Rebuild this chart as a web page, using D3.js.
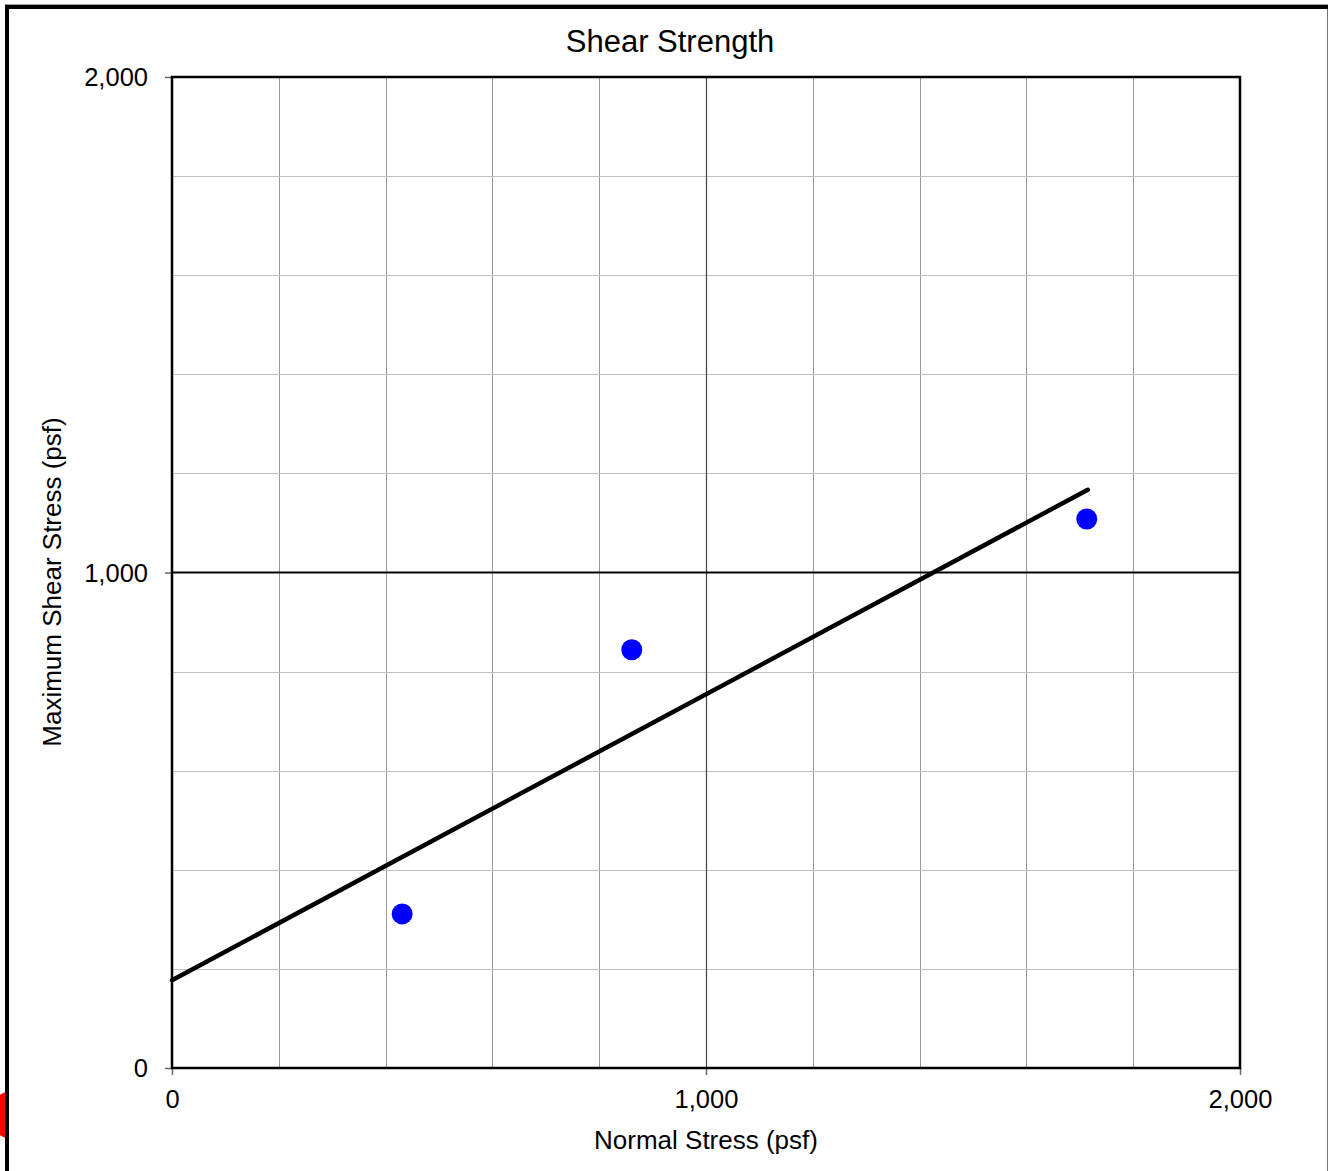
<!DOCTYPE html>
<html>
<head>
<meta charset="utf-8">
<script src="https://cdn.jsdelivr.net/npm/d3@7"></script>
<style>
  html, body { margin: 0; padding: 0; background: #fff; }
  svg { display: block; font-family: "Liberation Sans", Arial, sans-serif; }
</style>
</head>
<body>
<svg id="chart" width="1328" height="1171"></svg>
<script>
// Direct shear test results (psf)
const normalStress = [431, 861, 1713];
const shearStress = [311, 844, 1108];

// Failure envelope end points (psf)
const envelopeX = [0, 1715];
const envelopeY = [177, 1167];

const majorTicks = [0, 1000, 2000];
const gridTicks = [200, 400, 600, 800, 1000, 1200, 1400, 1600, 1800];

const chartTitle = "Shear Strength";
const xTitle = "Normal Stress (psf)";
const yTitle = "Maximum Shear Stress (psf)";

const svg = d3.select("#chart");
const W = 1328, H = 1171;
const plot = { left: 172, right: 1240, top: 77, bottom: 1068 };

const x = d3.scaleLinear().domain([0, 2000]).range([plot.left, plot.right]);
const y = d3.scaleLinear().domain([0, 2000]).range([plot.bottom, plot.top]);
const fmt = d3.format(",");

svg.append("rect").attr("width", W).attr("height", H).attr("fill", "#fff");

// Red mark partly hidden behind the outer frame
svg.append("circle").attr("cx", 13).attr("cy", 1115).attr("r", 24).attr("fill", "#ff0000");
svg.append("rect").attr("x", 9).attr("y", 1080).attr("width", 40).attr("height", 70).attr("fill", "#fff");

// Outer frame
svg.append("line").attr("x1", 7).attr("x2", 7).attr("y1", 5).attr("y2", H)
  .attr("stroke", "#000").attr("stroke-width", 4);
svg.append("line").attr("x1", 5).attr("x2", W).attr("y1", 7).attr("y2", 7)
  .attr("stroke", "#000").attr("stroke-width", 4);
svg.append("line").attr("x1", 5).attr("x2", W).attr("y1", 4.5).attr("y2", 4.5)
  .attr("stroke", "#999").attr("stroke-width", 1);
svg.append("line").attr("x1", W - 0.5).attr("x2", W - 0.5).attr("y1", 9).attr("y2", H)
  .attr("stroke", "#777").attr("stroke-width", 1);

// Minor gridlines
const grid = svg.append("g");
grid.selectAll(".vg").data(gridTicks.filter(d => d !== 1000)).enter().append("line")
  .attr("x1", d => Math.round(x(d)) + 0.5).attr("x2", d => Math.round(x(d)) + 0.5)
  .attr("y1", plot.top).attr("y2", plot.bottom)
  .attr("stroke", "#999").attr("stroke-width", 1);
grid.selectAll(".hg").data(gridTicks.filter(d => d !== 1000)).enter().append("line")
  .attr("x1", plot.left).attr("x2", plot.right)
  .attr("y1", d => Math.round(y(d)) + 0.5).attr("y2", d => Math.round(y(d)) + 0.5)
  .attr("stroke", "#c0c0c0").attr("stroke-width", 1);

// Major lines at 1,000
svg.append("line")
  .attr("x1", Math.round(x(1000)) + 0.5).attr("x2", Math.round(x(1000)) + 0.5)
  .attr("y1", plot.top).attr("y2", plot.bottom)
  .attr("stroke", "#444").attr("stroke-width", 1.2);
svg.append("line")
  .attr("x1", plot.left).attr("x2", plot.right)
  .attr("y1", y(1000)).attr("y2", y(1000))
  .attr("stroke", "#000").attr("stroke-width", 2);

// Axes
const xAxis = d3.axisBottom(x).tickValues(majorTicks).tickFormat(fmt).tickSize(7).tickSizeOuter(0);
const yAxis = d3.axisLeft(y).tickValues(majorTicks).tickFormat(fmt).tickSize(7).tickSizeOuter(0);

const gx = svg.append("g").attr("transform", `translate(0,${plot.bottom})`).call(xAxis);
const gy = svg.append("g").attr("transform", `translate(${plot.left},0)`).call(yAxis);
[gx, gy].forEach(g => {
  g.select(".domain").remove();
  g.selectAll(".tick line").attr("stroke", "#666").attr("stroke-width", 1.5);
  g.selectAll(".tick text").attr("fill", "#000").attr("font-size", 25.5)
    .attr("font-family", "Liberation Sans, Arial, sans-serif");
});
gx.selectAll(".tick text").attr("dy", null).attr("y", 40);
gy.selectAll(".tick text").attr("x", -24).attr("dy", "0.35em");

// Plot frame
svg.append("rect")
  .attr("x", plot.left).attr("y", plot.top)
  .attr("width", plot.right - plot.left).attr("height", plot.bottom - plot.top)
  .attr("fill", "none").attr("stroke", "#000").attr("stroke-width", 2.5);

// Failure envelope
const envelope = envelopeX.map((v, i) => [v, envelopeY[i]]);
svg.append("path")
  .datum(envelope)
  .attr("d", d3.line().x(d => x(d[0])).y(d => y(d[1])))
  .attr("fill", "none").attr("stroke", "#000").attr("stroke-width", 4.5)
  .attr("stroke-linecap", "round");

// Test points
svg.selectAll(".pt").data(normalStress.map((v, i) => [v, shearStress[i]])).enter()
  .append("circle")
  .attr("cx", d => x(d[0])).attr("cy", d => y(d[1])).attr("r", 10.5)
  .attr("fill", "#0000ff");

// Titles
svg.append("text").attr("x", 670).attr("y", 52).attr("text-anchor", "middle")
  .attr("font-size", 31).text(chartTitle);
svg.append("text").attr("x", 706).attr("y", 1149).attr("text-anchor", "middle")
  .attr("font-size", 26).text(xTitle);
svg.append("text").attr("transform", "translate(61,582) rotate(-90)")
  .attr("text-anchor", "middle").attr("font-size", 26).text(yTitle);
</script>
</body>
</html>
